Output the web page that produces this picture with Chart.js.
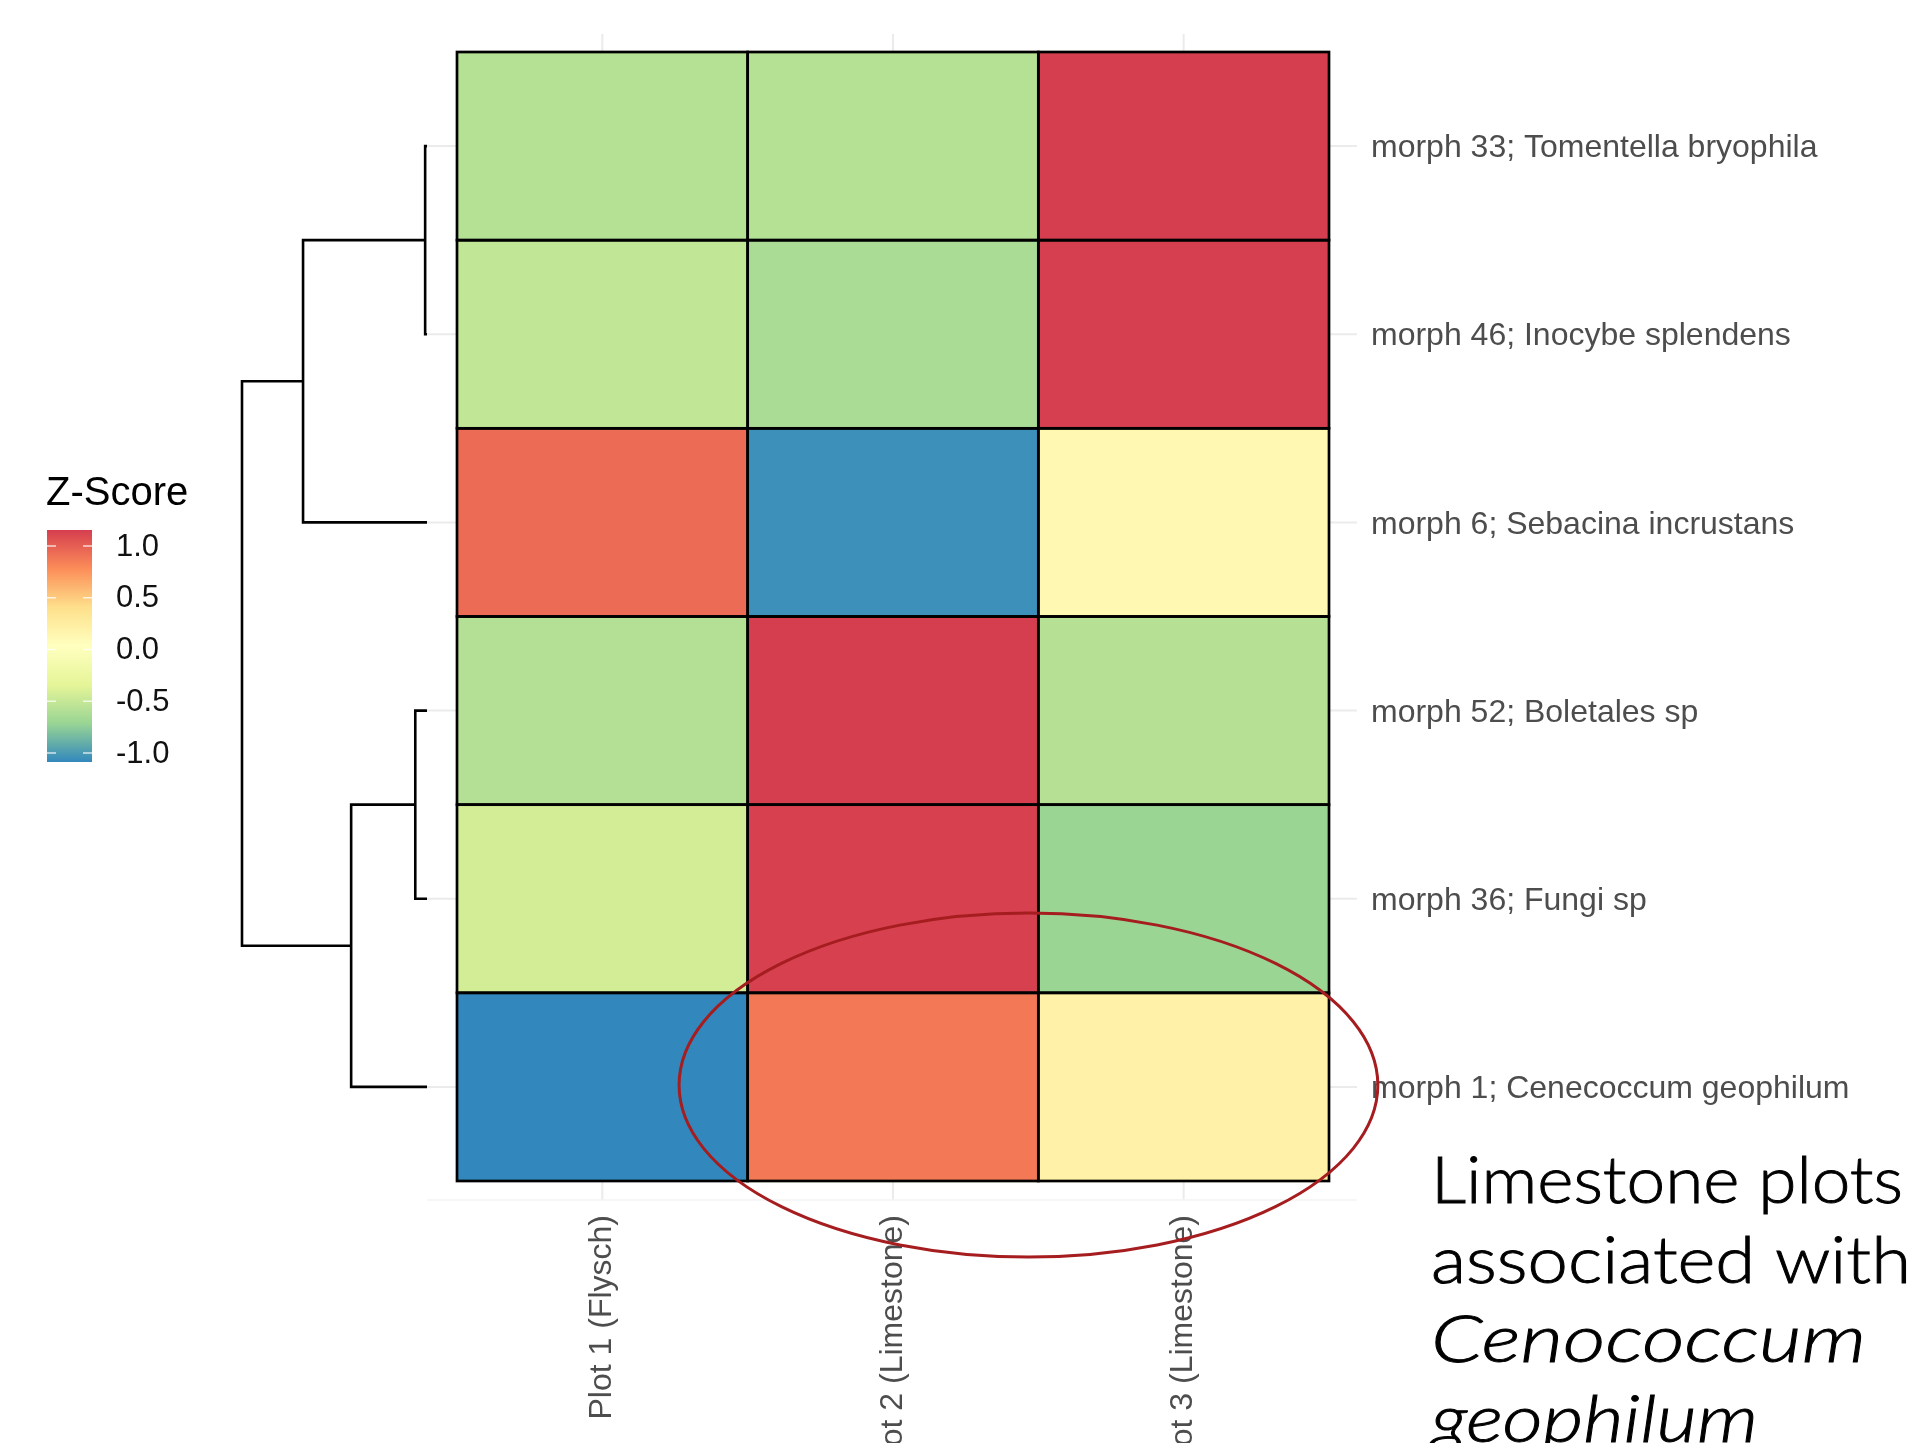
<!DOCTYPE html>
<html><head><meta charset="utf-8">
<script src="https://cdn.jsdelivr.net/npm/chart.js@4.4.1/dist/chart.umd.min.js"></script>
<style>
html,body{margin:0;padding:0;background:#fff;}
#wrap{position:relative;width:1926px;height:1443px;overflow:hidden;background:#fff;}
#main{position:absolute;left:0;top:0;}
#dendro{position:absolute;left:200px;top:0;}
</style></head><body>
<div id="wrap"><canvas id="main" width="1926" height="1443"></canvas><canvas id="dendro" width="260" height="1443"></canvas></div>
<script>
// ---------- data ----------
const plots = ['Plot 1 (Flysch)', 'Plot 2 (Limestone)', 'Plot 3 (Limestone)'];
const morphs = [
  'morph 33; Tomentella bryophila',
  'morph 46; Inocybe splendens',
  'morph 6; Sebacina incrustans',
  'morph 52; Boletales sp',
  'morph 36; Fungi sp',
  'morph 1; Cenecoccum geophilum'
];
const zMorph33 = [-0.577, -0.577, 1.155];
const zMorph46 = [-0.52, -0.63, 1.15];
const zMorph6  = [0.941, -1.05, 0.12];
const zMorph52 = [-0.58, 1.155, -0.575];
const zMorph36 = [-0.434, 1.144, -0.71];
const zMorph1  = [-1.087, 0.881, 0.206];
const zScores = [zMorph33, zMorph46, zMorph6, zMorph52, zMorph36, zMorph1];
const paletteStops = ['#3288BD', '#99D594', '#E6F598', '#FFFFBF', '#FEE08B', '#FC8D59', '#D53E4F'];
const legendTitle = 'Z-Score';
const legendTicks = [1.0, 0.5, 0.0, -0.5, -1.0];
// dendrogram (hclust style: negative = leaf row, positive = earlier merge)
const dendroMerge = [[-1, -2], [-4, -5], [2, -6], [1, -3], [4, 3]];
const dendroHeight = [0.03, 0.19, 1.23, 2.01, 3.0];
const noteLines = ['Limestone plots', 'associated with', 'Cenococcum', 'geophilum'];
const noteItalic = [false, false, true, true];

// ---------- colour scale ----------
const allZ = zScores.flat();
const zMin = Math.min(...allZ), zMax = Math.max(...allZ);
function hexRgb(h){ h=h.replace('#',''); return [0,2,4].map(i=>parseInt(h.substr(i,2),16)); }
const stopRgb = paletteStops.map(hexRgb);
function colorFor(v){
  const n = stopRgb.length - 1;
  let t = (v - zMin) / (zMax - zMin) * n;
  t = Math.max(0, Math.min(n, t));
  const i = Math.min(Math.floor(t), n - 1), f = t - i;
  const a = stopRgb[i], b = stopRgb[i+1];
  const c = a.map((x,k)=>Math.round(x + (b[k]-x)*f));
  return `rgb(${c[0]},${c[1]},${c[2]})`;
}

Chart.defaults.font.family = "'Liberation Sans', Arial, sans-serif";

// ---------- plugins ----------
const gridPlugin = {
  id: 'panelGrid',
  beforeDatasetsDraw(chart){
    const {ctx, chartArea: a, scales} = chart;
    const L = a.left - 30, R = a.right + 28, T = a.top - 18, B = a.bottom + 19;
    ctx.save();
    ctx.strokeStyle = '#ebebeb'; ctx.lineWidth = 2;
    plots.forEach((p, j) => {
      const x = scales.x.getPixelForValue(j);
      ctx.beginPath(); ctx.moveTo(x, T); ctx.lineTo(x, B); ctx.stroke();
    });
    morphs.forEach((m, i) => {
      const y = scales.y.getPixelForValue(i + 0.5);
      ctx.beginPath(); ctx.moveTo(L, y); ctx.lineTo(R, y); ctx.stroke();
    });
    ctx.strokeStyle = '#f3f3f3'; ctx.lineWidth = 1.5;
    ctx.beginPath(); ctx.moveTo(L, B); ctx.lineTo(R, B); ctx.stroke();
    ctx.restore();
  }
};
const outlinePlugin = {
  id: 'tileOutline',
  afterDatasetsDraw(chart){
    const ctx = chart.ctx;
    ctx.save();
    ctx.strokeStyle = '#000'; ctx.lineWidth = 2.7; ctx.lineJoin = 'miter';
    chart.data.datasets.forEach((ds, di) => {
      chart.getDatasetMeta(di).data.forEach(el => {
        const p = el.getProps(['x','y','base','width'], true);
        const top = Math.min(p.y, p.base), h = Math.abs(p.base - p.y);
        ctx.strokeRect(p.x - p.width/2, top, p.width, h);
      });
    });
    ctx.restore();
  }
};
const legendPlugin = {
  id: 'zLegend',
  afterDraw(chart){
    const ctx = chart.ctx;
    const bx = 47, bw = 45, bt = 530, bb = 762;
    ctx.save();
    ctx.fillStyle = '#000';
    ctx.font = "40px 'Liberation Sans', Arial, sans-serif";
    ctx.textBaseline = 'alphabetic'; ctx.textAlign = 'left';
    ctx.fillText(legendTitle, 46, 505);
    const g = ctx.createLinearGradient(0, bb, 0, bt);
    paletteStops.forEach((c, i) => g.addColorStop(i / (paletteStops.length - 1), c));
    ctx.fillStyle = g; ctx.fillRect(bx, bt, bw, bb - bt);
    ctx.font = "31px 'Liberation Sans', Arial, sans-serif";
    ctx.textBaseline = 'middle';
    legendTicks.forEach(v => {
      const y = bt + (zMax - v) / (zMax - zMin) * (bb - bt);
      ctx.strokeStyle = 'rgba(255,255,255,0.75)'; ctx.lineWidth = 1.5;
      ctx.beginPath(); ctx.moveTo(bx, y); ctx.lineTo(bx + 9, y);
      ctx.moveTo(bx + bw - 9, y); ctx.lineTo(bx + bw, y); ctx.stroke();
      ctx.fillStyle = '#111';
      ctx.fillText(v.toFixed(1), 116, y + 1);
    });
    ctx.restore();
  }
};
const notePlugin = {
  id: 'note',
  afterDraw(chart){
    const {ctx, scales} = chart;
    const xs = scales.x, ys = scales.y;
    const cx = xs.getPixelForValue(1.466), cy = ys.getPixelForValue(5.49);
    const rx = 1.202 * (xs.getPixelForValue(1) - xs.getPixelForValue(0));
    const ry = 0.914 * Math.abs(ys.getPixelForValue(1) - ys.getPixelForValue(0));
    ctx.save();
    ctx.strokeStyle = '#a61d1f'; ctx.lineWidth = 3;
    ctx.beginPath(); ctx.ellipse(cx, cy, rx, ry, 0, 0, Math.PI * 2); ctx.stroke();
    const targets = [472, 480, 435, 327];
    ctx.fillStyle = '#000'; ctx.strokeStyle = '#000'; ctx.lineWidth = 0.9;
    ctx.textBaseline = 'alphabetic'; ctx.textAlign = 'left';
    noteLines.forEach((t, i) => {
      ctx.font = (noteItalic[i] ? 'italic ' : '') + "300 65px Lato, 'Open Sans', sans-serif";
      const w = ctx.measureText(t).width;
      const s = Math.max(0.8, Math.min(1.3, targets[i] / w));
      ctx.save();
      ctx.translate(1431, 1203 + i * 79.5);
      ctx.scale(s, 1);
      ctx.fillText(t, 0, 0);
      ctx.strokeText(t, 0, 0);
      ctx.restore();
    });
    ctx.restore();
  }
};

// ---------- heatmap ----------
const AREA_RIGHT = 1329, AREA_BOTTOM = 1181;
new Chart(document.getElementById('main'), {
  type: 'bar',
  data: {
    labels: plots,
    datasets: zScores.map((row, i) => ({
      label: morphs[i],
      data: plots.map(() => [i, i + 1]),
      backgroundColor: row.map(colorFor),
      borderWidth: 0,
      grouped: false,
      categoryPercentage: 1,
      barPercentage: 1
    }))
  },
  options: {
    responsive: false, animation: false, devicePixelRatio: 1, events: [],
    layout: { padding: { left: 457, top: 52, right: 0, bottom: 0 } },
    plugins: { legend: { display: false }, tooltip: { enabled: false } },
    scales: {
      x: {
        type: 'category', offset: true,
        grid: { display: true, drawOnChartArea: false, drawTicks: true, tickLength: 34, color: 'rgba(0,0,0,0)', offset: false },
        border: { display: false },
        ticks: { minRotation: 90, maxRotation: 90, autoSkip: false, padding: 0, color: '#4d4d4d', font: { size: 32 } },
        afterFit(s) { s.height = 1443 - AREA_BOTTOM; }
      },
      y: {
        type: 'linear', position: 'right', min: 0, max: 6, reverse: true,
        grid: { display: true, drawOnChartArea: false, drawTicks: true, tickLength: 42, color: 'rgba(0,0,0,0)' },
        border: { display: false },
        afterBuildTicks(s) { s.ticks = morphs.map((m, i) => ({ value: i + 0.512 })); },
        ticks: { autoSkip: false, padding: 0, color: '#4d4d4d', font: { size: 32 }, callback: (v, i) => morphs[i] },
        afterFit(s) { s.width = 1926 - AREA_RIGHT; }
      }
    }
  },
  plugins: [gridPlugin, outlinePlugin, legendPlugin, notePlugin]
});

// ---------- dendrogram ----------
function dendroSegments(){
  const nodes = [];
  const segs = [];
  dendroMerge.forEach(([a, b], k) => {
    const pa = a < 0 ? { x: 0, y: -a - 1 + 0.5 } : nodes[a - 1];
    const pb = b < 0 ? { x: 0, y: -b - 1 + 0.5 } : nodes[b - 1];
    const h = dendroHeight[k];
    segs.push([{ x: pa.x, y: pa.y }, { x: h, y: pa.y }, { x: h, y: pb.y }, { x: pb.x, y: pb.y }]);
    nodes.push({ x: h, y: (pa.y + pb.y) / 2 });
  });
  return segs;
}
new Chart(document.getElementById('dendro'), {
  type: 'line',
  data: {
    datasets: dendroSegments().map(s => ({
      data: s, borderColor: '#000', borderWidth: 2.6, pointRadius: 0, fill: false,
      tension: 0, clip: false, borderJoinStyle: 'miter', borderCapStyle: 'butt'
    }))
  },
  options: {
    responsive: false, animation: false, devicePixelRatio: 1, events: [],
    layout: { padding: { left: 42, right: 33, top: 52, bottom: 262 } },
    plugins: { legend: { display: false }, tooltip: { enabled: false } },
    scales: {
      x: { type: 'linear', min: 0, max: 3.0, reverse: true, display: false },
      y: { type: 'linear', min: 0, max: 6, reverse: true, display: false }
    }
  }
});
</script>
</body></html>
